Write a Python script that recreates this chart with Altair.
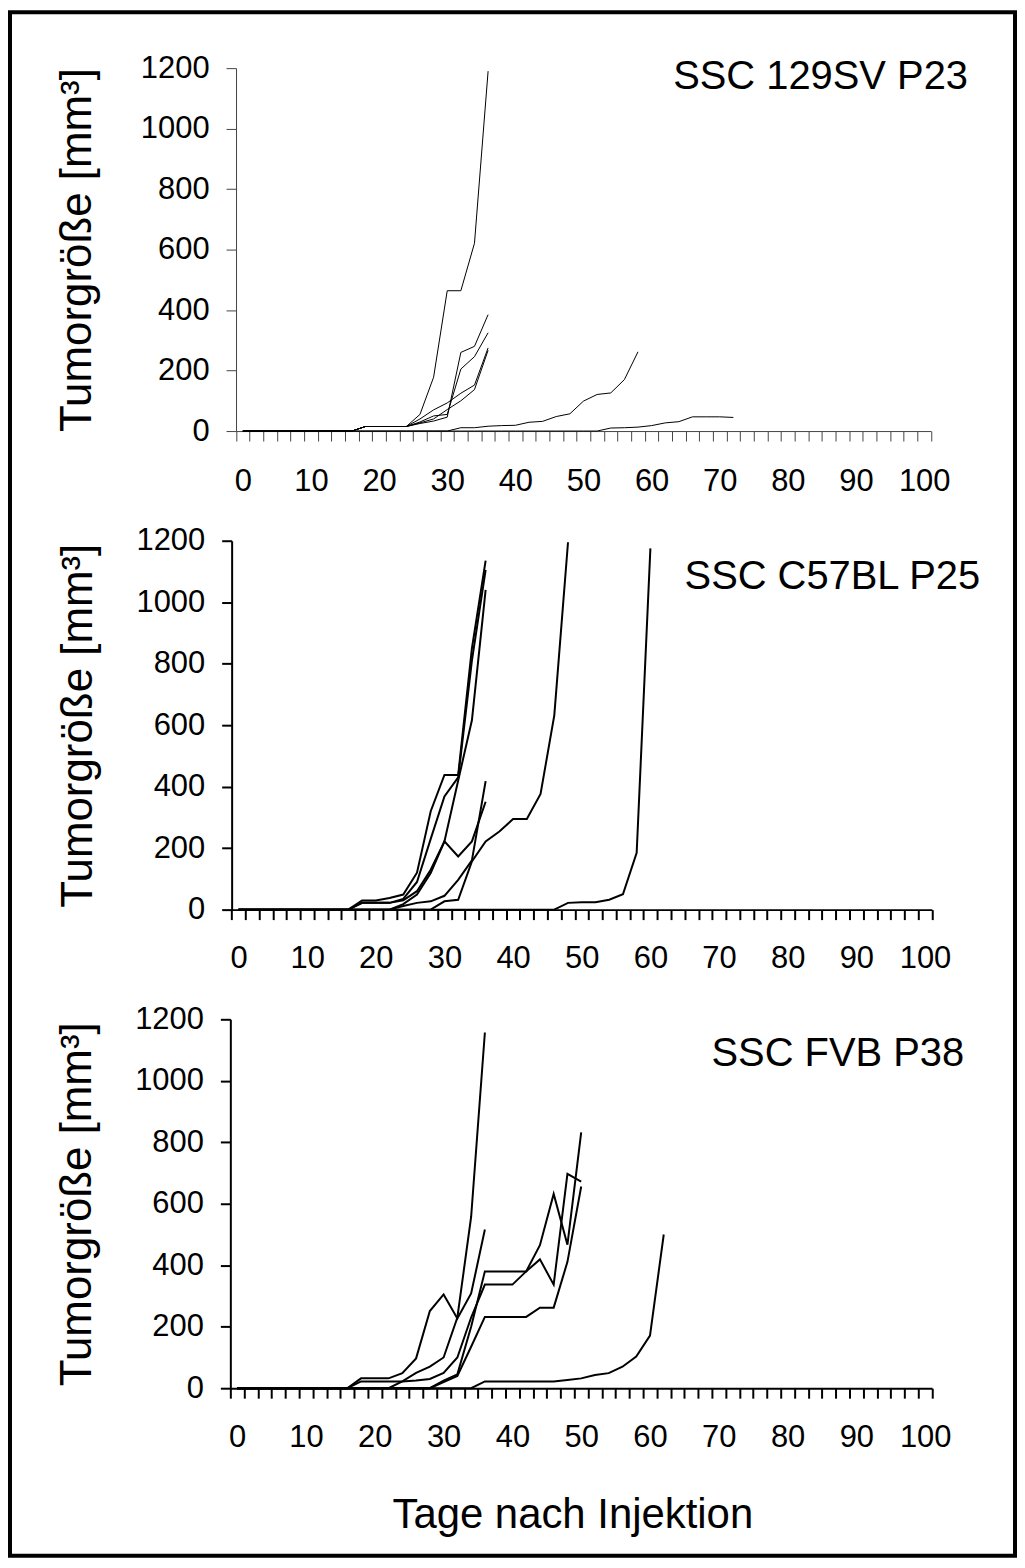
import altair as alt
import pandas as pd

# ---------------- data ----------------
# every series is sampled every 2 days, starting at day 0
P1_TITLE = "SSC 129SV P23"
P1_SERIES = {
    "a": [0] * 9 + [15, 15, 15, 15, 55, 178, 464, 464, 621, 1190],
    "b": [0] * 9 + [15, 15, 15, 15, 25, 33, 46, 260, 280, 385],
    "c": [0] * 9 + [15, 15, 15, 15, 30, 50, 55, 205, 246, 325],
    "d": [0] * 9 + [15, 15, 15, 15, 40, 70, 93, 125, 152, 275],
    "e": [0] * 9 + [15, 15, 15, 15, 27, 40, 71, 100, 137, 267],
    "f": [0] * 16 + [11, 11, 16, 18, 19, 29, 32, 48, 57, 99, 121, 126, 170, 262],
    "g": [0] * 27 + [10, 11, 13, 18, 27, 31, 47, 47, 47, 45],
}

P2_TITLE = "SSC C57BL P25"
P2_SERIES = {
    "a": [0] * 9 + [30, 30, 38, 49, 120, 320, 438, 438, 850, 1135],
    "b": [0] * 9 + [22, 22, 22, 35, 90, 230, 368, 430, 810, 1105],
    "c": [0] * 9 + [22, 22, 22, 30, 60, 130, 222, 420, 616, 1040],
    "d": [0] * 12 + [18, 49, 119, 222, 173, 222, 351],
    "e": [0] * 12 + [12, 22, 27, 45, 97, 160, 418],
    "f": [0] * 15 + [27, 32, 157, 222, 254, 295, 295, 376, 632, 1195],
    "g": [0] * 24 + [22, 24, 24, 32, 50, 185, 1175],
}

P3_TITLE = "SSC FVB P38"
P3_SERIES = {
    "a": [0] * 9 + [32, 32, 32, 49, 97, 251, 305, 227, 308, 516],
    "b": [0] * 12 + [22, 50, 70, 100, 230, 557, 1157],
    "c": [0] * 9 + [22, 22, 22, 22, 25, 30, 50, 100, 230, 337, 337, 337, 380, 419, 337, 697, 672],
    "d": [0] * 15 + [25, 45, 200, 380, 380, 380, 380, 465, 632, 467, 832],
    "e": [0] * 15 + [20, 40, 135, 232, 232, 232, 232, 262, 262, 411, 656],
    "f": [0] * 18 + [22, 22, 22, 22, 22, 22, 27, 32, 43, 49, 70, 103, 171, 500],
}

DAY_STEP = 2
Y_TICKS = [0, 200, 400, 600, 800, 1000, 1200]
X_TICKS = list(range(-1, 102, 2))          # tick marks between the day categories
Y_TITLE = "Tumorgröße [mm³]"
X_TITLE = "Tage nach Injektion"

# panel-title anchors in data coordinates (day, value)
TITLE_POS = [(84.8, 1170), (86.5, 1083), (87.3, 1086)]

# ---------------- layout ----------------
W, H = 1008, 1548
FONT = "Liberation Sans, Arial, Helvetica, sans-serif"


def make_df(series):
    rows = []
    for name, vals in series.items():
        for i, v in enumerate(vals):
            rows.append({"mouse": name, "day": i * DAY_STEP, "value": v})
    return pd.DataFrame(rows)


def panel(series, title, tpos, xr, yr, line_w, ax_col, ax_w, xlab_pad,
          ytitle_x, x_title=None):
    day_px = (xr[1] - xr[0]) / 102.0
    xs = alt.Scale(domain=[-1, 101], range=xr, nice=False, zero=False)
    ys = alt.Scale(domain=[0, 1200], range=yr, nice=False, zero=False)
    x_axis_kw = dict(
        orient="bottom", values=X_TICKS, offset=yr[0] - H,
        tickSize=10, tickColor=ax_col, tickWidth=ax_w,
        domainColor=ax_col, domainWidth=ax_w, grid=False,
        labelExpr="(datum.value + 1) % 10 == 0 ? format(datum.value + 1, 'd') : ''",
        labelOffset=day_px, labelOverlap=False, labelFlush=False,
        labelFont=FONT, labelFontSize=31, labelColor="black",
        labelPadding=xlab_pad, labelBaseline="top",
    )
    if x_title:
        x_axis_kw.update(title=x_title, titleFont=FONT, titleFontSize=42,
                         titleFontWeight="normal", titleColor="black",
                         titleX=564, titleY=140, titleBaseline="alphabetic",
                         titleAlign="center", titleAnchor="middle")
    else:
        x_axis_kw.update(title=None)
    x_axis = alt.Axis(**x_axis_kw)
    y_axis = alt.Axis(
        orient="left", values=Y_TICKS, offset=-xr[0], format="d",
        tickSize=10, tickColor=ax_col, tickWidth=ax_w,
        domainColor=ax_col, domainWidth=ax_w, grid=False,
        labelFont=FONT, labelFontSize=31, labelColor="black", labelPadding=17,
        title=Y_TITLE, titleFont=FONT, titleFontSize=44, titleFontWeight="normal",
        titleColor="black", titleX=ytitle_x, titleBaseline="middle",
    )
    xe = alt.X("day:Q", scale=xs, axis=x_axis)
    ye = alt.Y("value:Q", scale=ys, axis=y_axis)
    lines = alt.Chart(make_df(series)).mark_line(
        color="black", strokeWidth=line_w
    ).encode(x=xe, y=ye, detail="mouse:N")
    tdf = pd.DataFrame([{"day": tpos[0], "value": tpos[1], "label": title}])
    txt = alt.Chart(tdf).mark_text(
        font=FONT, fontSize=40, color="black", align="center", baseline="middle"
    ).encode(x=xe, y=ye, text="label:N")
    return alt.layer(lines, txt)


p1 = panel(P1_SERIES, P1_TITLE, TITLE_POS[0], [226.7, 923.7], [420, 56],
           1, "#444444", 1, 26, -158.7)
p2 = panel(P2_SERIES, P2_TITLE, TITLE_POS[1], [222.3, 924.6], [900, 530],
           2, "black", 2, 24, -154)
p3 = panel(P3_SERIES, P3_TITLE, TITLE_POS[2], [221.0, 924.8], [1380, 1010],
           2, "black", 2, 24, -153, x_title=X_TITLE)

chart = (
    alt.layer(p1, p2, p3)
    .resolve_scale(x="independent", y="independent")
    .resolve_axis(x="independent", y="independent")
    .properties(width=W, height=H, padding=2, background="white",
                autosize=alt.AutoSizeParams(type="none"))
    .configure_view(stroke="black", strokeWidth=4)
)

chart.save("out.html", embed_options={"renderer": "svg", "actions": False})
